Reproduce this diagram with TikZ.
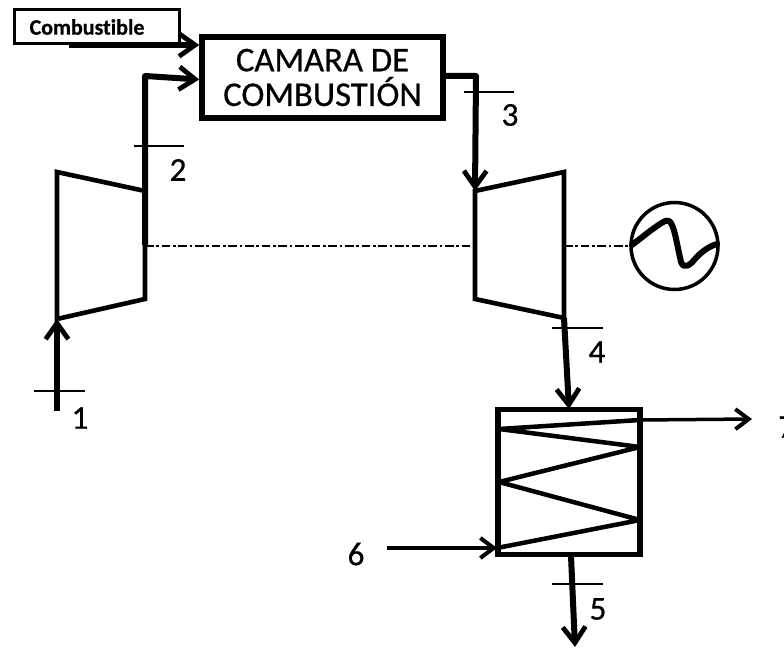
\documentclass[tikz,border=0pt]{standalone}
\usepackage{fontspec}
\setmainfont{Carlito}
\newfontfamily\heavyfont[FakeBold=0.6,Ligatures=NoCommon]{Carlito}
\usetikzlibrary{arrows.meta}
\tikzset{
 px/.style={line width=#1*0.75pt},
 vee/.style={-{Straight Barb[length=12pt,width=17pt,line width=3.6pt]}},
 veethin/.style={-{Straight Barb[length=10pt,width=15pt,line width=3pt]}},
 mach/.style={px=4.6,line join=miter},
 flow/.style={px=6,line join=round},
 tick/.style={px=2},
 num/.style={font=\heavyfont\fontsize{25}{27}\selectfont,inner sep=0pt},
 lbl/.style={font=\heavyfont\fontsize{26}{26}\selectfont,align=center,inner sep=0pt},
}
\begin{document}
\begin{tikzpicture}[x=0.75pt,y=-0.75pt]
\useasboundingbox (0,0) rectangle (784,648);
% fuel label
\node[draw,px=3,minimum width=165pt*0.75,minimum height=34.5pt*0.75,inner sep=0pt,anchor=north west] (fuel) at (13,8) {};
\node[inner sep=0pt,font=\heavyfont\bfseries\fontsize{16.5}{18}\selectfont] (fueltxt) at (87,27) {Combustible};
% combustion chamber
\node[draw,px=5.5,minimum width=241pt*0.75,minimum height=81pt*0.75,inner sep=0pt,lbl] (cc) at (322.5,77.5) {CAMARA DE\\COMBUSTIÓN};
% compressor
\coordinate (c1) at (57,172); \coordinate (c2) at (145,191); \coordinate (c3) at (145,299); \coordinate (c4) at (57,319);
\draw[mach] (c1) -- (c2) -- (c3) -- (c4) -- cycle;
% turbine
\coordinate (t1) at (475,191); \coordinate (t2) at (564,172); \coordinate (t3) at (564,318); \coordinate (t4) at (475,299);
\draw[mach] (t1) -- (t2) -- (t3) -- (t4) -- cycle;
% generator
\node[draw,circle,px=3.5,minimum size=87pt*0.75,inner sep=0pt] (gen) at (674.5,246) {};
\draw[px=6,line cap=round,line join=round] (632,245) -- (650,231) .. controls (660,224) and (666,219) .. (669,221) .. controls (674,224) and (676,240) .. (681,262) .. controls (684,270) and (690,265) .. (695,259) .. controls (702,251) and (710,246) .. (717,244);
% shaft
\draw[px=2,dash pattern=on 6.5pt off 2pt on 2pt off 2pt] (c2 |- gen) -- (t1 |- gen);
\draw[px=2,dash pattern=on 6.5pt off 2pt on 2pt off 2pt] (t2 |- gen) -- (gen.west);
% heat exchanger
\node[draw,px=5.5,minimum width=142pt*0.75,minimum height=145pt*0.75,inner sep=0pt] (hx) at (569,482) {};
\coordinate (z0) at (497,548); \coordinate (z1) at (640,520); \coordinate (z2) at (499,482); \coordinate (z3) at (640,447); \coordinate (z4) at (499,429); \coordinate (z5) at (640,420);
\draw[px=4.5,line join=bevel] (z0) -- (z1) -- (z2) -- (z3) -- (z4) -- (z5);
% flows
\coordinate (p1) at (57,411);
\draw[flow,vee] (p1) -- (c4);
\draw[flow,vee] (145,245) -- (145,76) -- ([yshift=-1.5]cc.west);
\draw[flow,vee] (69,45) -- (cc.west |- 0,45);
\draw[flow,vee] (cc.east |- 0,76) -- (476,76) -- (t1);
\draw[flow,vee] (t3) -- (569,409);
\draw[flow,vee] (571,556) -- (575,647);
\draw[px=4,veethin] (387,548) -- (z0);
\draw[px=3.5,veethin] (z5) -- (752,419);
% ticks
\draw[tick] (34,391) -- (85,391);
\draw[tick] (134,146) -- (184,146);
\draw[tick] (464,92) -- (514,92);
\draw[tick] (552,328) -- (603,328);
\draw[tick] (552,584) -- (603,584);
% numbers
\node[num] (n1) at (80,418) {1};
\node[num] (n2) at (178,170) {2};
\node[num] (n3) at (510,115) {3};
\node[num] (n4) at (597,352) {4};
\node[num] (n5) at (598,609) {5};
\node[num] (n6) at (356,554) {6};
\node[num,anchor=west] (n7) at (778,427) {7};
\end{tikzpicture}
\end{document}
